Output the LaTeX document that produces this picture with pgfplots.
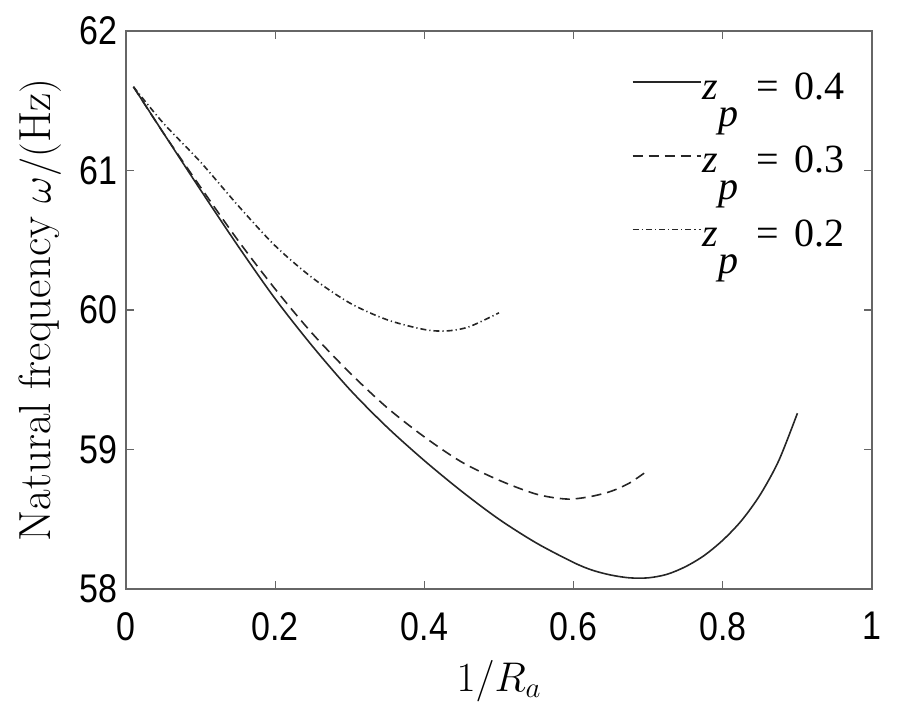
\documentclass[border=0pt]{standalone}
\usepackage{fontspec}
\usepackage{pgfplots}
\pgfplotsset{compat=1.18}
\newfontfamily\ticksans[FakeStretch=0.85]{Liberation Sans}
\newfontfamily\legserif{Liberation Serif}
% MATLAB-style legend text: z with the p dropped well below it
\newcommand{\zp}[1]{\textit{z}\smash{\raisebox{-0.68em}{\textit{p}}}\hspace{0.45em}=\hspace{0.4em}#1}

\begin{document}
\begin{tikzpicture}
\begin{axis}[
    scale only axis,
    width=373pt, height=279pt,
    xmin=0, xmax=1, ymin=58, ymax=62,
    xtick={0,0.2,0.4,0.6,0.8,1},
    ytick={58,59,60,61,62},
    tick align=inside,
    major tick length=4pt,
    axis line style={black!60, line width=0.6pt},
    every tick/.style={black!60, line width=0.6pt},
    tick label style={font=\fontsize{20}{20}\selectfont\ticksans},
    /pgf/number format/assume math mode=true,
    /pgf/number format/fixed,
    xticklabel style={yshift=-8pt},
    yticklabel style={xshift=-1pt},
    xlabel={$1/R_a$},
    ylabel={Natural frequency $\omega/(\mathrm{Hz})$},
    xlabel style={font=\fontsize{22}{22}\selectfont, at={(axis description cs:0.5,-0.165)}, anchor=center},
    ylabel style={font=\fontsize{22.5}{22.5}\selectfont, at={(axis description cs:-0.1153,0.5)}, anchor=center},
    legend style={draw=none, fill=none, at={(axis description cs:1,1)},
        anchor=north east, xshift=-13pt, yshift=-20pt,
        font=\fontsize{20}{20}\selectfont\legserif,
        row sep=21pt, inner sep=0pt, nodes={inner sep=0.5pt}},
    legend cell align=left,
    legend image code/.code={\draw[#1] (0pt,0.25em) -- (34pt,0.25em);},
]
\coordinate (A) at (rel axis cs:0,0);
\coordinate (B) at (rel axis cs:1,1);

\addplot[black!85, line width=0.8pt, smooth] coordinates {
(0.01,61.60) (0.05,61.27) (0.10,60.86) (0.15,60.46) (0.20,60.08) (0.25,59.74)
(0.30,59.43) (0.35,59.16) (0.40,58.92) (0.45,58.70) (0.50,58.50) (0.55,58.33)
(0.60,58.19) (0.625,58.135) (0.65,58.10) (0.675,58.08) (0.70,58.08) (0.725,58.105)
(0.75,58.16) (0.775,58.24) (0.80,58.35) (0.825,58.49) (0.85,58.675) (0.875,58.92) (0.90,59.26)
};
\addlegendentry{\zp{0.4}}

\addplot[black!85, line width=0.8pt, dash pattern=on 5pt off 3pt, smooth] coordinates {
(0.01,61.60) (0.05,61.27) (0.10,60.88) (0.15,60.50) (0.20,60.15) (0.25,59.83)
(0.30,59.55) (0.35,59.30) (0.40,59.09) (0.45,58.91) (0.50,58.78) (0.55,58.68)
(0.59,58.645) (0.62,58.66) (0.65,58.70) (0.675,58.76) (0.697,58.84)
};
\addlegendentry{\zp{0.3}}

\addplot[black!85, line width=0.8pt, dash pattern=on 3pt off 1.5pt on 0.6pt off 1.5pt, smooth] coordinates {
(0.01,61.60) (0.05,61.34) (0.10,61.06) (0.15,60.75) (0.20,60.46) (0.25,60.23)
(0.30,60.05) (0.35,59.93) (0.40,59.86) (0.43,59.85) (0.46,59.88) (0.50,59.98)
};
\addlegendentry{\zp{0.2}}
\end{axis}
\pgfresetboundingbox
\path[use as bounding box] ([shift={(-63pt,-56pt)}]A) rectangle ([shift={(13pt,15.5pt)}]B);
\end{tikzpicture}
\end{document}
